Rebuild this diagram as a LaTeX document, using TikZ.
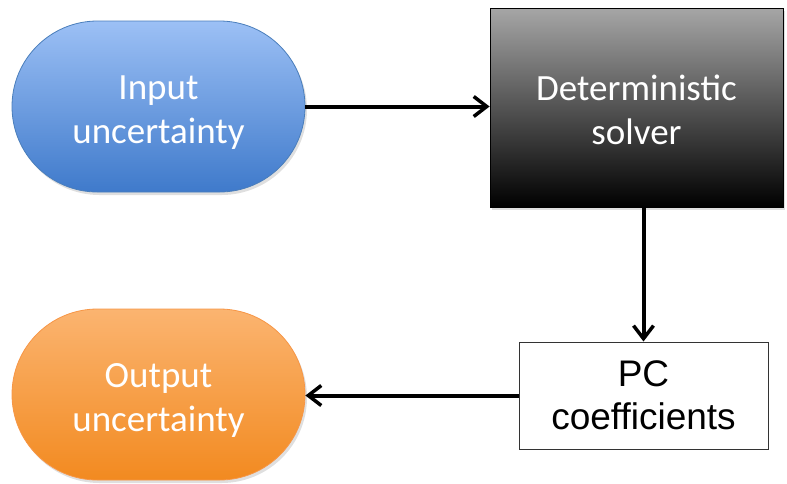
\documentclass[tikz,border=0pt]{standalone}
\usepackage{fontspec}
\setmainfont{Carlito}
\newfontfamily\arialfont{Liberation Sans}
\usetikzlibrary{shapes.misc,arrows.meta,shadows}

\definecolor{blueTop}{HTML}{9CC0F5}
\definecolor{blueBot}{HTML}{3F7ACB}
\definecolor{blueEdge}{HTML}{4A7EBB}
\definecolor{orangeTop}{HTML}{FBB470}
\definecolor{orangeBot}{HTML}{F28A20}
\definecolor{orangeEdge}{HTML}{F79646}
\definecolor{greyTop}{HTML}{A6A6A6}

\tikzset{
  bigtext/.style={font=\fontsize{37}{44}\selectfont, align=center},
  softshadow/.style={drop shadow={opacity=0.25, shadow xshift=2pt, shadow yshift=-3pt}},
  pill/.style={rounded rectangle, minimum width=293pt, minimum height=171pt,
    inner sep=0pt, line width=0.8pt, softshadow},
  pilltext/.style={bigtext, text=white, yshift=-6pt},
  flow/.style={line width=4pt, -{Straight Barb[length=13pt,width=20pt,line width=3.5pt]}},
}

\begin{document}
\begin{tikzpicture}[x=1pt,y=-1pt]
  \useasboundingbox (0,0) rectangle (787,483);

  % input pill
  \node[pill, draw=blueEdge, top color=blueTop, bottom color=blueBot]
    (in) at (158.5,106.5) {};
  \node[pilltext] (inLabel) at (in.center) {Input\\uncertainty};

  % solver box
  \node[rectangle, minimum width=293pt, minimum height=199pt, inner sep=0pt,
    draw=black, line width=0.8pt, top color=greyTop, bottom color=black,
    softshadow] (solver) at (636.5,107.5) {};
  \node[bigtext, text=white, yshift=-2pt] (solverLabel) at (solver.center)
    {Deterministic\\solver};

  % coefficients box
  \node[rectangle, minimum width=249pt, minimum height=107pt, inner sep=0pt,
    draw=black!80, line width=1pt, fill=white, text=black,
    font=\arialfont\fontsize{37}{43}\selectfont, align=center]
    (pc) at (643.5,395.5) {PC\\coefficients};

  % output pill
  \node[pill, draw=orangeEdge, top color=orangeTop, bottom color=orangeBot]
    (out) at (158.5,394.5) {};
  \node[pilltext] (outLabel) at (out.center) {Output\\uncertainty};

  \draw[flow] (in.east) -- (in.east -| solver.west);
  \draw[flow] (solver.south -| pc.north) -- (pc.north);
  \draw[flow] (pc.west) -- (pc.west -| out.east);
\end{tikzpicture}
\end{document}
